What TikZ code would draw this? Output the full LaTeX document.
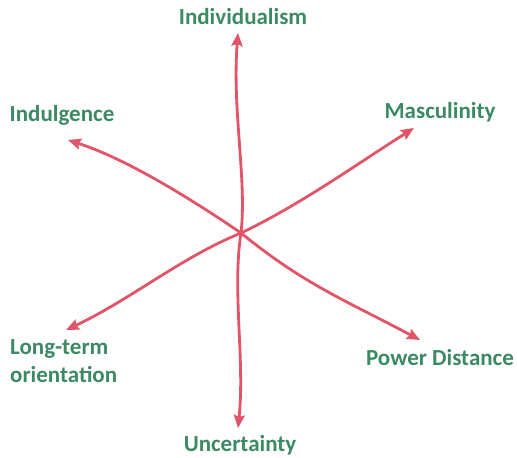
\documentclass[tikz,border=0pt]{standalone}
\usepackage{fontspec}
\setmainfont{Carlito}
\usetikzlibrary{arrows.meta}
\definecolor{dimRed}{HTML}{E25468}
\definecolor{dimGreen}{HTML}{3B8A63}
\tikzset{
  dim arrow/.style={draw=dimRed, line width=2.8pt, line cap=round, -{Stealth[length=13pt, width=11pt, inset=2pt]}},
  dim label/.style={font=\fontsize{23}{28}\selectfont\bfseries, text=dimGreen, inner sep=0pt},
}

\begin{document}
\begin{tikzpicture}[x=1pt, y=-1pt]
  \useasboundingbox (0,0) rectangle (517,458);
  \coordinate (hub) at (241,233);
  % Arrow tips
  \coordinate (tipInd) at (238,33);
  \coordinate (tipMas) at (414,128);
  \coordinate (tipPow) at (420,340);
  \coordinate (tipUnc) at (238,428);
  \coordinate (tipLto) at (66,330);
  \coordinate (tipIlg) at (68,140);
  % Labels
  \node[dim label] (ind) at (243,17) {Individualism};
  \node[dim label] (mas) at (440,112) {Masculinity};
  \node[dim label] (pow) at (440,358) {Power Distance};
  \node[dim label] (unc) at (240,445) {Uncertainty};
  \node[dim label, align=left, anchor=west] (lto) at (10,361) {Long-term\\orientation};
  \node[dim label] (ilg) at (62,115) {Indulgence};
  % Wavy spokes from the hub
  \draw[dim arrow] (hub) .. controls (247,180) and (232,110) .. (tipInd);
  \draw[dim arrow] (hub) .. controls (300,205) and (360,162) .. (tipMas);
  \draw[dim arrow] (hub) .. controls (305,285) and (345,300) .. (tipPow);
  \draw[dim arrow] (hub) .. controls (232,290) and (245,360) .. (tipUnc);
  \draw[dim arrow] (hub) .. controls (180,258) and (130,300) .. (tipLto);
  \draw[dim arrow] (hub) .. controls (200,205) and (130,160) .. (tipIlg);
\end{tikzpicture}
\end{document}
